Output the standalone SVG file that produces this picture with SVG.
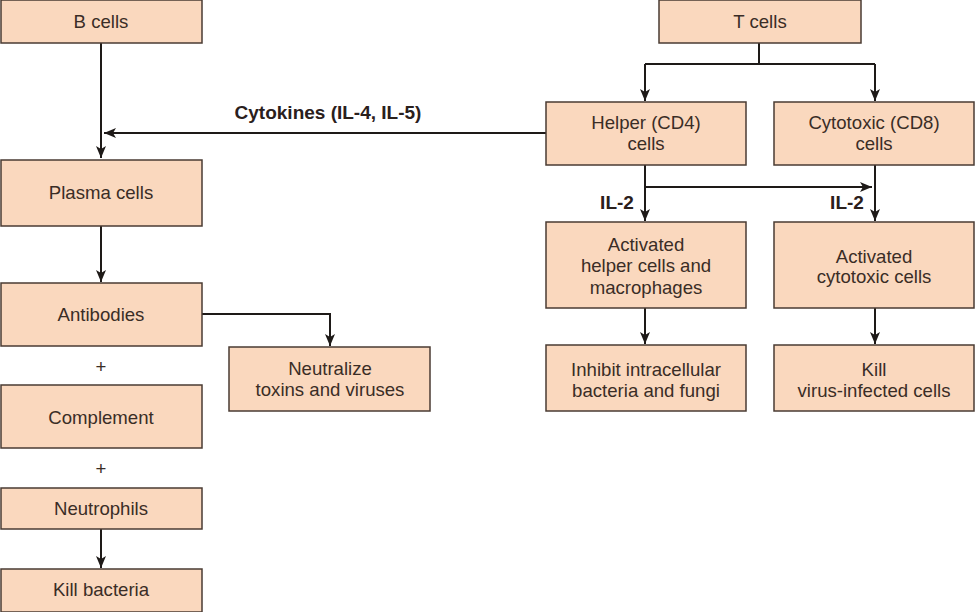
<svg xmlns="http://www.w3.org/2000/svg" width="975" height="612" viewBox="0 0 975 612">
<style>
.box{fill:#FAD8BE;stroke:#4a3b33;stroke-width:1.5}
.t{font-family:"Liberation Sans",Arial,sans-serif;font-size:18.6px;fill:#3a2d26;text-anchor:middle}
.b{font-weight:bold;font-size:19px;fill:#2a201c}
.c{fill:none;stroke:#1e1a18;stroke-width:2}
</style>
<defs>
<marker id="ah" viewBox="0 0 12 10" refX="12" refY="5" markerWidth="12" markerHeight="10" markerUnits="userSpaceOnUse" orient="auto">
<path d="M0,0 L12,5 L0,10 L3,5 z" fill="#1e1a18"/>
</marker>
</defs>
<rect width="975" height="612" fill="#fff"/>
<g id="connectors">
<path class="c" d="M101,43 V158" marker-end="url(#ah)"/>
<path class="c" d="M546,133 H104" marker-end="url(#ah)"/>
<path class="c" d="M101,226 V282" marker-end="url(#ah)"/>
<path class="c" d="M202,314 H330 V346" marker-end="url(#ah)"/>
<path class="c" d="M101,529 V568" marker-end="url(#ah)"/>
<path class="c" d="M759,43 V64"/>
<path class="c" d="M645,64 H875"/>
<path class="c" d="M645,64 V101" marker-end="url(#ah)"/>
<path class="c" d="M875,64 V101" marker-end="url(#ah)"/>
<path class="c" d="M645,165 V221" marker-end="url(#ah)"/>
<path class="c" d="M645,187 H872" marker-end="url(#ah)"/>
<path class="c" d="M875,165 V221" marker-end="url(#ah)"/>
<path class="c" d="M645,308 V344" marker-end="url(#ah)"/>
<path class="c" d="M875,308 V344" marker-end="url(#ah)"/>
<text class="t b" x="328" y="119">Cytokines (IL-4, IL-5)</text>
<text class="t b" x="617" y="209">IL-2</text>
<text class="t b" x="847" y="209">IL-2</text>
<text class="t" x="101" y="373">+</text>
<text class="t" x="101" y="475">+</text>
</g>
<g id="bcells"><rect class="box" x="1" y="0" width="201" height="43"/><text class="t" x="101" y="28">B cells</text></g>
<g id="plasma"><rect class="box" x="1" y="160" width="201" height="66"/><text class="t" x="101" y="199">Plasma cells</text></g>
<g id="antibodies"><rect class="box" x="1" y="283" width="201" height="63"/><text class="t" x="101" y="321">Antibodies</text></g>
<g id="neutralize"><rect class="box" x="229" y="347" width="201" height="64"/><text class="t" x="330" y="375">Neutralize</text><text class="t" x="330" y="396">toxins and viruses</text></g>
<g id="complement"><rect class="box" x="1" y="385" width="201" height="63"/><text class="t" x="101" y="424">Complement</text></g>
<g id="neutrophils"><rect class="box" x="1" y="488" width="201" height="41"/><text class="t" x="101" y="515">Neutrophils</text></g>
<g id="killbacteria"><rect class="box" x="1" y="569" width="201" height="43"/><text class="t" x="101" y="596">Kill bacteria</text></g>
<g id="tcells"><rect class="box" x="659" y="0" width="202" height="43"/><text class="t" x="760" y="28">T cells</text></g>
<g id="helper"><rect class="box" x="546" y="102" width="200" height="63"/><text class="t" x="646" y="129">Helper (CD4)</text><text class="t" x="646" y="150">cells</text></g>
<g id="cytotoxic"><rect class="box" x="774" y="102" width="200" height="63"/><text class="t" x="874" y="129">Cytotoxic (CD8)</text><text class="t" x="874" y="150">cells</text></g>
<g id="acthelper"><rect class="box" x="546" y="222" width="200" height="86"/><text class="t" x="646" y="251">Activated</text><text class="t" x="646" y="272">helper cells and</text><text class="t" x="646" y="294">macrophages</text></g>
<g id="actcyto"><rect class="box" x="774" y="222" width="200" height="86"/><text class="t" x="874" y="263">Activated</text><text class="t" x="874" y="283">cytotoxic cells</text></g>
<g id="inhibit"><rect class="box" x="546" y="345" width="200" height="66"/><text class="t" x="646" y="376">Inhibit intracellular</text><text class="t" x="646" y="397">bacteria and fungi</text></g>
<g id="kill"><rect class="box" x="774" y="345" width="200" height="66"/><text class="t" x="874" y="376">Kill</text><text class="t" x="874" y="397">virus-infected cells</text></g>
</svg>
